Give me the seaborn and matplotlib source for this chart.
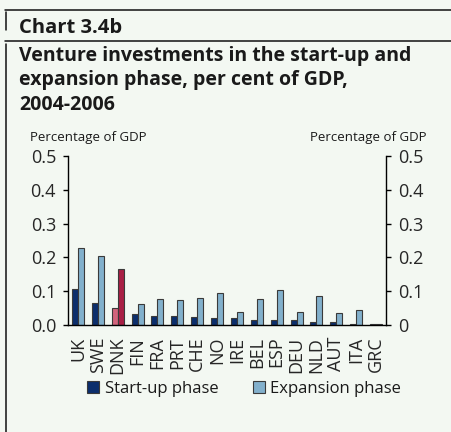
import matplotlib
matplotlib.use("Agg")
import matplotlib.pyplot as plt
from matplotlib.lines import Line2D
import numpy as np
import pandas as pd
import seaborn as sns

# Venture investments, per cent of GDP (average 2004-2006)
countries = ["UK", "SWE", "DNK", "FIN", "FRA", "PRT", "CHE", "NO",
             "IRE", "BEL", "ESP", "DEU", "NLD", "AUT", "ITA", "GRC"]
startup = [0.107, 0.064, 0.049, 0.033, 0.027, 0.026, 0.024, 0.020,
           0.020, 0.015, 0.015, 0.014, 0.008, 0.008, 0.003, 0.002]
expansion = [0.227, 0.205, 0.165, 0.062, 0.076, 0.074, 0.079, 0.094,
             0.038, 0.076, 0.103, 0.037, 0.087, 0.036, 0.043, 0.004]
phases = ["Start-up phase", "Expansion phase"]
left_ticks = ["0.0", "0.1", "0.2", "0.3", "0.4", "0.5"]
right_ticks = ["0", "0.1", "0.2", "0.3", "0.4", "0.5"]
highlight = "DNK"

BG = "#f3f8f2"
NAVY = "#0b2e6c"
LIGHT = "#82b0cc"
HL_START = "#d2647c"
HL_EXP = "#a91f45"
EDGE = "#3a3a3a"

sns.set_theme(style="white")
plt.rcParams["font.family"] = ["Open Sans", "DejaVu Sans"]
plt.rcParams["text.color"] = "#1a1a1a"

W, H = 451, 432
fig = plt.figure(figsize=(W / 100, H / 100), dpi=100, facecolor=BG)


def fx(px):
    return px / W


def fy(py):
    return 1 - py / H


ax = fig.add_axes([fx(68), fy(325), fx(386 - 68), (325 - 156) / H])
ax.set_facecolor(BG)

df = pd.DataFrame({
    "country": countries * 2,
    "phase": [phases[0]] * len(countries) + [phases[1]] * len(countries),
    "value": startup + expansion,
})

sns.barplot(data=df, x="country", y="value", hue="phase", order=countries,
            hue_order=phases, palette=[NAVY, LIGHT], saturation=1,
            width=0.6, edgecolor=EDGE, linewidth=0.8, legend=False, ax=ax)

# Denmark highlighted in red tones
i_hl = countries.index(highlight)
ax.containers[0][i_hl].set_facecolor(HL_START)
ax.containers[1][i_hl].set_facecolor(HL_EXP)

TICK_FS = 13
ax.set_xlim(-0.5, len(countries) - 0.5)
ax.set_ylim(0, 0.5)
ax.set_xlabel("")
ax.set_ylabel("")
ax.set_yticks(np.arange(0, 0.51, 0.1))
ax.set_yticklabels(left_ticks, fontsize=TICK_FS)
ax.set_xticks(range(len(countries)))
ax.set_xticklabels(countries, rotation=90, fontsize=TICK_FS)
ax.set_xticks(np.arange(-0.5, len(countries), 1), minor=True)
ax.tick_params(axis="x", which="major", length=0, pad=8.5)
ax.tick_params(axis="x", which="minor", length=3.6, width=1, color="black",
               direction="out")
ax.tick_params(axis="y", length=3.6, width=1, color="black", direction="out",
               pad=5, left=True)
for s in ["top", "right"]:
    ax.spines[s].set_visible(False)
for s in ["left", "bottom"]:
    ax.spines[s].set_color("black")
    ax.spines[s].set_linewidth(1)

ax2 = ax.twinx()
ax2.set_ylim(0, 0.5)
ax2.set_yticks(np.arange(0, 0.51, 0.1))
ax2.set_yticklabels(right_ticks, fontsize=TICK_FS)
ax2.tick_params(axis="y", length=3.6, width=1, color="black", direction="out",
                pad=5, right=True)
for s in ["top", "left", "bottom"]:
    ax2.spines[s].set_visible(False)
ax2.spines["right"].set_color("black")
ax2.spines["right"].set_linewidth(1)
ax2.grid(False)
ax.grid(False)

# Headings
fig.text(fx(19), fy(33), "Chart 3.4b", fontsize=14.5, fontweight="bold",
         ha="left", va="baseline")
title_lines = ["Venture investments in the start-up and",
               "expansion phase, per cent of GDP,",
               "2004-2006"]
for line, base in zip(title_lines, (61, 85.5, 110)):
    fig.text(fx(19), fy(base), line, fontsize=14.0, fontweight="bold",
             ha="left", va="baseline")
fig.text(fx(30), fy(137), "Percentage of GDP", fontsize=9.5, ha="left",
         va="center")
fig.text(fx(427), fy(137), "Percentage of GDP", fontsize=9.5, ha="right",
         va="center")

# Frame lines
lc = "#111111"
for xs, ys in [((5, 451), (9.5, 9.5)), ((5.5, 5.5), (12, 30)),
               ((5, 451), (41, 41)), ((5.5, 5.5), (44, 432))]:
    fig.add_artist(Line2D([fx(xs[0]), fx(xs[1])], [fy(ys[0]), fy(ys[1])],
                          color=lc, linewidth=1.1, transform=fig.transFigure))

handles = [Line2D([], [], marker="s", linestyle="", markersize=9,
                  markerfacecolor=c, markeredgecolor=EDGE, markeredgewidth=0.8)
           for c in (NAVY, LIGHT)]
fig.legend(handles, phases, loc="center", ncol=2, frameon=False,
           bbox_to_anchor=(fx(244), fy(389)), fontsize=12, handlelength=0.8,
           handletextpad=0.3, columnspacing=2.0)

fig.savefig("out.png", dpi=100, facecolor=BG)
